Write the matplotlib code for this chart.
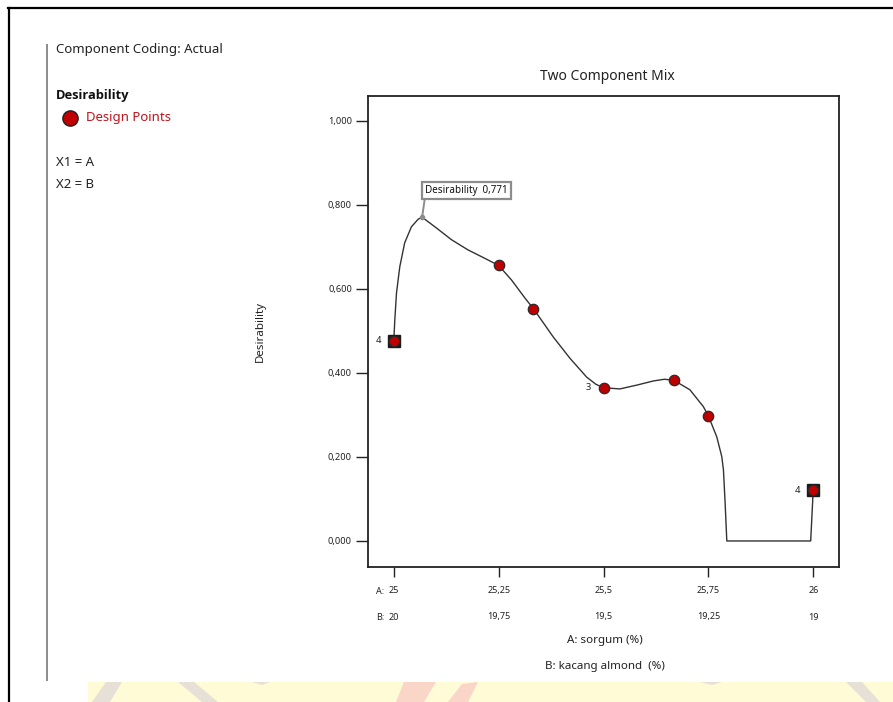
import matplotlib
matplotlib.use("Agg")
import matplotlib.pyplot as plt
from matplotlib.patches import Polygon, Rectangle
from matplotlib.lines import Line2D

plt.rcParams['font.family'] = ['Noto Sans', 'DejaVu Sans']

# Prediction trace of desirability along the A-B mixture edge
curve_a = [25.000, 25.0024, 25.0064, 25.0143, 25.026, 25.042, 25.058, 25.0675,
           25.082, 25.098, 25.138, 25.177, 25.217, 25.250, 25.281, 25.313,
           25.333, 25.380, 25.420, 25.460, 25.482, 25.500, 25.539, 25.579,
           25.619, 25.645, 25.667, 25.706, 25.738, 25.750, 25.770, 25.782,
           25.786, 25.790, 25.794, 25.994, 26.000]
curve_d = [0.477, 0.526, 0.590, 0.653, 0.710, 0.748, 0.766, 0.771,
           0.760, 0.748, 0.717, 0.693, 0.673, 0.656, 0.621, 0.578,
           0.553, 0.486, 0.435, 0.390, 0.373, 0.365, 0.362, 0.371,
           0.381, 0.385, 0.383, 0.360, 0.320, 0.298, 0.248, 0.201,
           0.169, 0.090, 0.000, 0.000, 0.121]

# Design points
pts_a = [25.0, 25.25, 25.333, 25.5, 25.667, 25.75, 26.0]
pts_d = [0.477, 0.656, 0.553, 0.365, 0.383, 0.298, 0.121]
replicates = [4, 1, 1, 3, 1, 1, 4]

# Optimum flag
opt_a = 25.0675
opt_d = 0.771

# Axis ticks
a_ticks = [25.0, 25.25, 25.5, 25.75, 26.0]
b_ticks = [20.0, 19.75, 19.5, 19.25, 19.0]
d_ticks = [0.0, 0.2, 0.4, 0.6, 0.8, 1.0]

W, H = 893, 702
PT = 100 / 72  # pixels per point at 100 dpi
fig = plt.figure(figsize=(W / 100, H / 100), dpi=100)


def fx(px):
    return px / W


def fy(py):
    return 1 - py / H


def num(v):
    return f"{v:g}".replace('.', ',')


# Faint watermark band along the bottom edge
fig.patches.append(Rectangle((fx(88), 0), fx(893) - fx(88), fy(682), transform=fig.transFigure,
                             facecolor='#fffbd6', edgecolor='none', zorder=0))
for poly, col in [
    ([(92, 702), (106, 682), (122, 682), (110, 702)], '#e6e0d6'),
    ([(178, 682), (194, 682), (218, 702), (202, 702)], '#e6e0d6'),
    ([(252, 682), (262, 685), (270, 682)], '#e6e0d6'),
    ([(404, 682), (436, 682), (424, 702), (396, 702)], '#f9d6c8'),
    ([(448, 702), (462, 684), (478, 682), (468, 702)], '#f9d6c8'),
    ([(700, 682), (712, 685), (722, 682)], '#e6e0d6'),
    ([(846, 682), (862, 682), (880, 702), (866, 702)], '#e6e0d6'),
]:
    fig.patches.append(Polygon([(fx(x), fy(y)) for x, y in poly], closed=True,
                               transform=fig.transFigure, facecolor=col,
                               edgecolor='none', zorder=0.5))

# Outer frame lines
fig.add_artist(Line2D([fx(9), fx(9)], [fy(8), 0], color='black', lw=1.6,
                      transform=fig.transFigure))
fig.add_artist(Line2D([fx(8.2), 1], [fy(8), fy(8)], color='black', lw=1.6,
                      transform=fig.transFigure))
# Gray divider of the side panel
fig.add_artist(Line2D([fx(47), fx(47)], [fy(45), fy(680)], color='#8c8c8c', lw=1.4,
                      transform=fig.transFigure))

# Side panel text
fig.text(fx(56), fy(50), "Component Coding: Actual", fontsize=9.5, va='center',
         ha='left', color='#222222')
fig.text(fx(56), fy(95), "Desirability", fontsize=9.3, fontweight='bold',
         family=['Open Sans', 'DejaVu Sans'], va='center', ha='left', color='#111111')
fig.add_artist(Line2D([fx(70)], [fy(118)], marker='o', markersize=11,
                      markerfacecolor='#c00000', markeredgecolor='#222222',
                      markeredgewidth=1.0, transform=fig.transFigure))
fig.text(fx(86), fy(118), "Design Points", fontsize=9.5, va='center', ha='left',
         color='#c0141c')
fig.text(fx(56), fy(162), "X1 = A", fontsize=9.5, va='center', ha='left', color='#222222')
fig.text(fx(56), fy(185), "X2 = B", fontsize=9.5, va='center', ha='left', color='#222222')

# Main plot
left, right, top, bottom = 368, 839, 96, 567
ax = fig.add_axes([fx(left), fy(bottom), fx(right) - fx(left), fy(top) - fy(bottom)])
ax.set_xlim(24.9385, 26.0615)
ax.set_ylim(-0.062, 1.0595)

ax.plot(curve_a, curve_d, color='#333333', lw=1.0, zorder=2,
        solid_joinstyle='round')

for a, d, r in zip(pts_a, pts_d, replicates):
    if r > 1 and a in (a_ticks[0], a_ticks[-1]):
        ax.plot(a, d, marker='s', markersize=9, markerfacecolor='#1a1a1a',
                markeredgecolor='#1a1a1a', zorder=3)
    ax.plot(a, d, marker='o', markersize=7.5, markerfacecolor='#c00000',
            markeredgecolor='#2a2a2a', markeredgewidth=0.9, zorder=4)
    if r > 1:
        ax.annotate(str(r), (a, d), xytext=(-9, 0), textcoords='offset points',
                    ha='right', va='center', fontsize=6.8, color='#222222')

# Optimum flag
ax.plot(opt_a, opt_d, marker='o', markersize=3, color='#8c8c8c', zorder=5)
ax.annotate(f"Desirability  {opt_d:.3f}".replace('.', ','), (opt_a, opt_d),
            xytext=(2.2, 15.2), textcoords='offset points', ha='left', va='bottom',
            fontsize=7.1, color='#111111',
            bbox=dict(boxstyle='square,pad=0.3', facecolor='white',
                      edgecolor='#8c8c8c', lw=1.6),
            arrowprops=dict(arrowstyle='-', color='#8c8c8c', lw=1.4,
                            shrinkA=0, shrinkB=0, relpos=(0, 0)))

for s in ax.spines.values():
    s.set_linewidth(1.3)
    s.set_color('#222222')

ax.set_yticks(d_ticks)
ax.set_yticklabels([f"{v:.3f}".replace('.', ',') for v in d_ticks], fontsize=6.7)
ax.tick_params(axis='y', direction='out', length=8.6, width=1.0, pad=3,
               colors='#222222')

ax.set_xticks(a_ticks)
ax.set_xticklabels([num(v) for v in a_ticks], fontsize=6.5)
ax.tick_params(axis='x', direction='out', length=7.2, width=1.0, pad=6.3,
               colors='#222222')

# B row of the mixture axis and the row prefixes
row_a = -(591 - bottom) / PT
row_b = -(617 - bottom) / PT
for a, b in zip(a_ticks, b_ticks):
    ax.annotate(num(b), (a, 0), xycoords=('data', 'axes fraction'),
                xytext=(0, row_b), textcoords='offset points',
                ha='center', va='center', fontsize=6.5, color='#222222')
for lab, row in (("A:", row_a), ("B:", row_b)):
    ax.annotate(lab, (a_ticks[0], 0), xycoords=('data', 'axes fraction'),
                xytext=(-7, row), textcoords='offset points',
                ha='right', va='center', fontsize=6.5, color='#222222')

fig.text(fx(605), fy(641), "A: sorgum (%)", fontsize=8.3, ha='center', va='center',
         color='#222222')
fig.text(fx(605), fy(667), "B: kacang almond  (%)", fontsize=8.3, ha='center',
         va='center', color='#222222')
fig.text(fx(260), fy(332), "Desirability", fontsize=8.3, rotation=90, ha='center',
         va='center', color='#222222')
fig.text(fx(607), fy(76), "Two Component Mix", fontsize=10, ha='center', va='center',
         color='#222222')

fig.savefig("out.png", dpi=100, facecolor='white')
